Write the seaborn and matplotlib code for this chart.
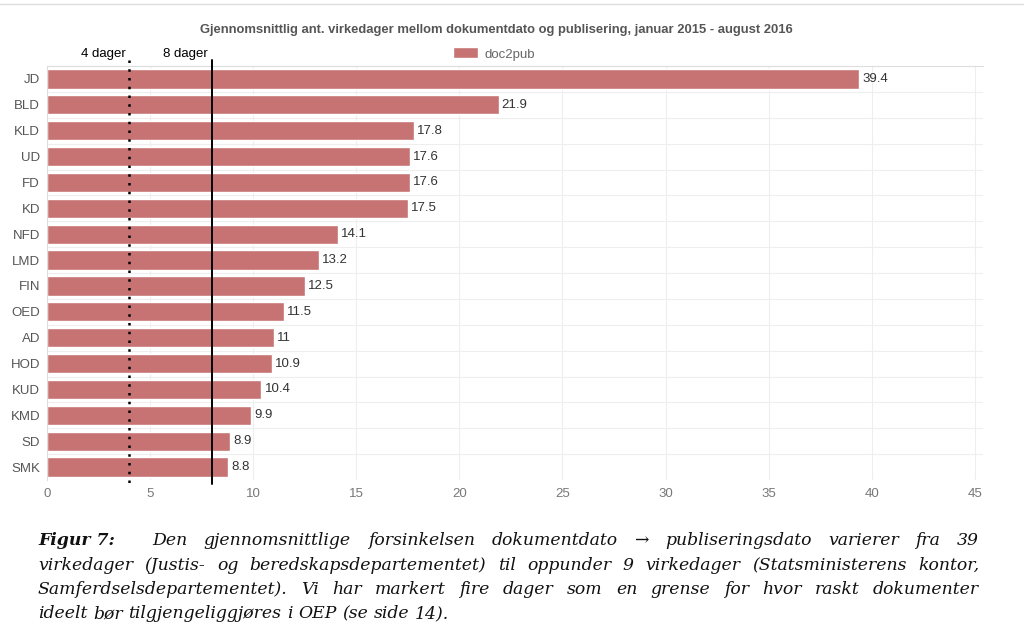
import matplotlib
matplotlib.use("Agg")
import matplotlib.pyplot as plt
import seaborn as sns
import pandas as pd

# ---- data ----
departments = ["JD", "BLD", "KLD", "UD", "FD", "KD", "NFD", "LMD", "FIN", "OED",
               "AD", "HOD", "KUD", "KMD", "SD", "SMK"]
doc2pub = [39.4, 21.9, 17.8, 17.6, 17.6, 17.5, 14.1, 13.2, 12.5, 11.5,
           11, 10.9, 10.4, 9.9, 8.9, 8.8]
value_labels = ["39.4", "21.9", "17.8", "17.6", "17.6", "17.5", "14.1", "13.2", "12.5", "11.5",
                "11", "10.9", "10.4", "9.9", "8.9", "8.8"]
x_ticks = [0, 5, 10, 15, 20, 25, 30, 35, 40, 45]
ref_days = [4, 8]
ref_labels = ["4 dager", "8 dager"]
title = "Gjennomsnittlig ant. virkedager mellom dokumentdato og publisering, januar 2015 - august 2016"
series_name = "doc2pub"
caption_lines = [
    "Den gjennomsnittlige forsinkelsen dokumentdato \u2192 publiseringsdato varierer fra 39",
    "virkedager (Justis- og beredskapsdepartementet) til oppunder 9 virkedager (Statsministerens kontor,",
    "Samferdselsdepartementet).  Vi har markert fire dager som en grense for hvor raskt dokumenter",
    "ideelt b\u00f8r tilgjengeliggj\u00f8res i OEP (se side 14).",
]

df = pd.DataFrame({"dep": departments, "value": doc2pub})

sns.set_theme(style="white")
plt.rcParams["font.family"] = ["Liberation Sans", "DejaVu Sans"]

BAR = "#C77373"
fig = plt.figure(figsize=(10.24, 6.39), dpi=100)
ax = fig.add_axes([47 / 1024, 1 - 480 / 639, (983 - 47) / 1024, (480 - 66) / 639])

sns.barplot(data=df, x="value", y="dep", color=BAR, width=0.74, ax=ax,
            saturation=1, orient="h", label=series_name)

ax.set_xlim(0, 45.4)
ax.set_ylim(15.5, -0.5)
ax.set_xticks(x_ticks)
ax.set_xticklabels([str(t) for t in x_ticks])
ax.set_xlabel("")
ax.set_ylabel("")
ax.tick_params(axis="x", colors="#777777", labelsize=9.5, length=0, pad=6)
ax.tick_params(axis="y", colors="#555555", labelsize=9.5, length=0, pad=5)

# grid
for t in x_ticks[1:]:
    ax.axvline(t, color="#eeeeee", lw=0.8, zorder=0)
for i in range(len(departments)):
    ax.axhline(i + 0.5, color="#eeeeee", lw=0.8, zorder=0)
for s in ["bottom", "right"]:
    ax.spines[s].set_visible(False)
ax.spines["top"].set_color("#dddddd")
ax.spines["left"].set_color("#dddddd")
ax.spines["top"].set_linewidth(0.8)
ax.spines["left"].set_linewidth(0.8)

# value labels
for i, (v, lab) in enumerate(zip(doc2pub, value_labels)):
    ax.text(v + 0.15, i, lab, va="center", ha="left", fontsize=9.5, color="#333333")

# reference lines
styles = [(0, (1, 2.5)), "-"]
widths = [1.8, 1.4]
for d, lab, ls, lw in zip(ref_days, ref_labels, styles, widths):
    ax.plot([d, d], [-0.75, 15.65], color="black", ls=ls, lw=lw, clip_on=False, zorder=5)
    ax.text(d - 0.2, -0.72, lab, ha="right", va="bottom", fontsize=9.5, color="black")

# title and legend
fig.text(496 / 1024, 1 - 30 / 639, title, ha="center", va="center",
         fontsize=9.4, fontweight="bold", color="#555555")
leg = ax.legend(loc="center", bbox_to_anchor=(494 / 1024, 1 - 54 / 639),
                bbox_transform=fig.transFigure, frameon=False, fontsize=9.5,
                handlelength=1.9, handleheight=0.9, handletextpad=0.5)
for t in leg.get_texts():
    t.set_color("#666666")

# top border line
fig.add_artist(plt.Line2D([0, 1], [1 - 4 / 639, 1 - 4 / 639], color="#dddddd", lw=1))

# caption (justified like LaTeX)
serif = ["DejaVu Serif", "Liberation Serif"]
CFS = 12.4
renderer = fig.canvas.get_renderer()
baselines = [545, 570, 594, 618]
RIGHT = 979


def place_line(words, x_start, y_px, justify):
    ts = []
    for w in words:
        t = fig.text(0, 1 - y_px / 639, w, ha="left", va="baseline", fontsize=CFS,
                     fontstyle="italic", family=serif, color="#111111")
        ts.append(t)
    ws = [t.get_window_extent(renderer).width for t in ts]
    space = CFS * 100 / 72 * 0.33
    if justify and len(words) > 1:
        gap = (RIGHT - x_start - sum(ws)) / (len(words) - 1)
    else:
        gap = space
    x = x_start
    for t, w in zip(ts, ws):
        t.set_x(x / 1024)
        x += w + gap


fig.text(38 / 1024, 1 - baselines[0] / 639, "Figur 7:", ha="left", va="baseline",
         fontsize=CFS, fontstyle="italic", fontweight="bold", family=serif, color="#111111")
place_line(caption_lines[0].split(), 152, baselines[0], True)
place_line(caption_lines[1].split(), 38, baselines[1], True)
place_line(caption_lines[2].split(), 38, baselines[2], True)
place_line(caption_lines[3].split(), 38, baselines[3], False)

fig.savefig("out.png", dpi=100)
